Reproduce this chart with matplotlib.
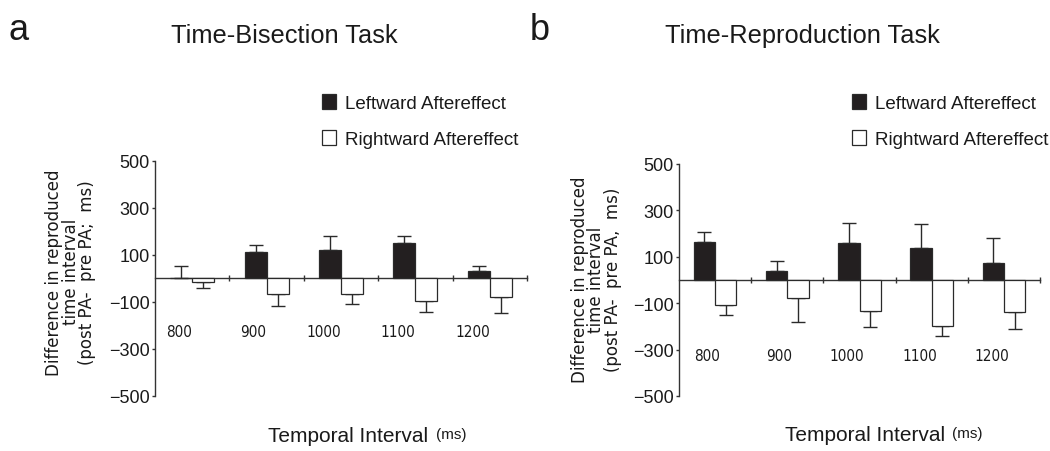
import numpy as np
import matplotlib
matplotlib.use("Agg")
import matplotlib.pyplot as plt

plt.rcParams['font.family'] = ['Liberation Sans', 'DejaVu Sans']

# ---- data -------------------------------------------------------------
intervals = ['800', '900', '1000', '1100', '1200']

bisect_left = [0, 112, 120, 149, 30]
bisect_left_err = [54, 29, 58, 29, 24]
bisect_right = [-14, -66, -66, -96, -78]
bisect_right_err = [27, 53, 41, 47, 69]

repro_left = [165, 37, 159, 139, 73]
repro_left_err = [40, 43, 88, 102, 107]
repro_right = [-108, -77, -133, -197, -137]
repro_right_err = [42, 102, 70, 44, 73]

yticks = [500, 300, 100, -100, -300, -500]

BLACK = '#231f20'
EDGE = '#2a2a2a'
TEXT = '#1a1a1a'

W, H = 1050, 452
fig = plt.figure(figsize=(W / 100, H / 100), dpi=100)


def px(x0, y0, x1, y1):
    """Figure-fraction rectangle from pixel corners (top-left origin)."""
    return [x0 / W, 1 - y1 / H, (x1 - x0) / W, (y1 - y0) / H]


def one_sided(vals, errs):
    v = np.asarray(vals, float)
    e = np.asarray(errs, float)
    lower = np.where(v < 0, e, 0.0)
    upper = np.where(v >= 0, e, 0.0)
    return [lower, upper]


def panel(ax, lv, le, rv, re, ylabel, label_y, label_dx, ylab_xy):
    n = len(intervals)
    centers = np.arange(n) + 0.5
    w = 0.295
    lb = ax.bar(centers - w / 2, lv, w, color=BLACK, edgecolor=EDGE,
                linewidth=0.9, label='Leftward Aftereffect', zorder=3)
    rb = ax.bar(centers + w / 2, rv, w, color='white', edgecolor=EDGE,
                linewidth=0.9, label='Rightward Aftereffect', zorder=3)
    ax.errorbar(centers - w / 2, lv, yerr=one_sided(lv, le), fmt='none',
                ecolor=EDGE, elinewidth=1.0, capsize=5, capthick=1.0, zorder=2)
    ax.errorbar(centers + w / 2, rv, yerr=one_sided(rv, re), fmt='none',
                ecolor=EDGE, elinewidth=1.0, capsize=5, capthick=1.0, zorder=2)

    ax.set_xlim(0, n)
    ax.set_ylim(-500, 500)
    ax.set_yticks(yticks)
    ax.set_yticklabels([f'{t:d}'.replace('-', '\u2212') for t in yticks])
    for s in ('top', 'right'):
        ax.spines[s].set_visible(False)
    ax.spines['bottom'].set_position(('data', 0))
    for s in ('left', 'bottom'):
        ax.spines[s].set_color('#333333')
        ax.spines[s].set_linewidth(1.0)
    ax.set_xticks(np.arange(1, n + 1))
    ax.tick_params(axis='x', direction='inout', length=4, width=1.0,
                   color='#333333', labelbottom=False)
    ax.tick_params(axis='y', direction='out', length=2.5, width=1.0,
                   color='#333333', pad=1.5, labelsize=13, labelcolor=TEXT)
    ax.patch.set_alpha(0)

    for c, lab in zip(centers, intervals):
        ax.text(c + label_dx, label_y, lab, ha='right', va='center',
                fontsize=11, family='DejaVu Sans', fontstretch='condensed',
                color=TEXT)

    ax.set_ylabel(ylabel, family='DejaVu Sans', fontsize=12,
                  linespacing=0.9, color=TEXT)
    ax.yaxis.set_label_coords(*ylab_xy)
    return lb, rb


ax1 = fig.add_axes(px(155, 161.7, 527, 397))
ax2 = fig.add_axes(px(679, 165, 1040, 397))

h1 = panel(ax1, bisect_left, bisect_left_err, bisect_right, bisect_right_err,
           'Difference in reproduced\ntime interval\n(post PA-  pre PA;  ms)',
           -225, 0.0, (-0.158, 0.53))
h2 = panel(ax2, repro_left, repro_left_err, repro_right, repro_right_err,
           'Difference in reproduced\ntime interval\n(post PA-  pre PA,  ms)',
           -325, 0.07, (-0.158, 0.505))

# legends above each panel
for handles, (lx, ly) in ((h1, (322, 95)), (h2, (852, 95))):
    fig.legend(handles=list(handles), loc='upper left',
               bbox_to_anchor=(lx / W, 1 - ly / H), frameon=False,
               prop={'size': 13.5}, handlelength=0.75,
               handleheight=0.85, handletextpad=0.5, labelspacing=0.95,
               borderpad=0, borderaxespad=0, labelcolor=TEXT)

# titles and panel letters
fig.text(284.5 / W, 1 - 43 / H, 'Time-Bisection Task', ha='center',
         va='baseline', fontsize=18.3, color=TEXT)
fig.text(802 / W, 1 - 43 / H, 'Time-Reproduction Task', ha='center',
         va='baseline', fontsize=18.3, color=TEXT)
fig.text(9 / W, 1 - 40 / H, 'a', ha='left', va='baseline',
         fontsize=26, color=TEXT)
fig.text(530 / W, 1 - 40 / H, 'b', ha='left', va='baseline',
         fontsize=26, color=TEXT)

# x-axis titles
for (tx, msx, base) in ((268, 436, 442), (785, 952, 441)):
    fig.text(tx / W, 1 - base / H, 'Temporal Interval', ha='left',
             va='baseline', fontsize=15, color=TEXT)
    fig.text(msx / W, 1 - (base - 3) / H, '(ms)', ha='left', va='baseline',
             fontsize=11, color=TEXT)

fig.savefig('out.png', dpi=100, facecolor='white')
